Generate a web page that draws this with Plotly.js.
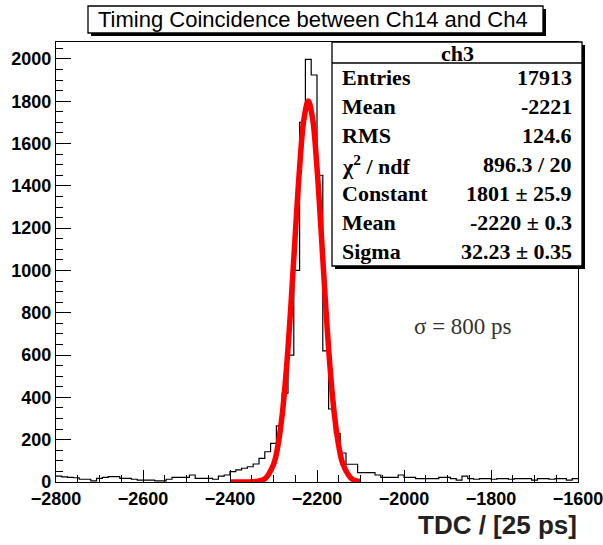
<!DOCTYPE html>
<html>
<head>
<meta charset="utf-8">
<script src="https://cdn.plot.ly/plotly-3.0.1.min.js"></script>
<style>html,body{margin:0;padding:0;background:#fff;}#chart{width:603px;height:545px;}</style>
</head>
<body>
<div id="chart"></div>
<script>
// ---- data ----
var histTitle = "Timing Coincidence between Ch14 and Ch4";
var histName = "ch3";
var binLow = -2800;
var binHigh = -1600;
var binCounts = [
  28, 24, 22, 20, 13, 13, 5, 17, 22, 25,
  25, 17, 17, 13, 9, 9, 9, 5, 5, 13,
  22, 22, 22, 33, 17, 17, 17, 13, 28, 33,
  49, 57, 65, 72, 85, 112, 143, 183, 265, 420,
  600, 1000, 1700, 1998, 1924, 1450, 620, 345, 230, 137,
  84, 84, 44, 44, 44, 33, 22, 22, 22, 33,
  22, 22, 16, 16, 16, 16, 22, 22, 16, 9,
  28, 16, 13, 16, 16, 13, 16, 16, 13, 16,
  16, 16, 9, 16, 16, 13, 16, 16, 9, 16
];
// fitted gaussian curve
var fitX = [-2400, -2360, -2340, -2320, -2300, -2290, -2280, -2270, -2260, -2250, -2240, -2230, -2220,
            -2210, -2200, -2190, -2180, -2170, -2160, -2150, -2140, -2120, -2100];
var fitY = [0, 0, 2, 15, 83, 170, 318, 541, 834, 1168, 1485, 1716, 1801,
            1716, 1485, 1168, 834, 541, 318, 170, 83, 15, 2];
var statLabels = ["Entries", "Mean", "RMS", "\u03c7<sup>2</sup> / ndf", "Constant", "Mean", "Sigma"];
var statValues = ["17913", "-2221", "124.6", "896.3 / 20", "1801 \u00b1 25.9", "-2220 \u00b1 0.3", "32.23 \u00b1 0.35"];
var noteText = "\u03c3 = 800 ps";
var xTitle = "TDC / [25 ps]";

// ---- build histogram outline ----
var nBins = binCounts.length;
var bw = (binHigh - binLow) / nBins;
var hx = [], hy = [];
for (var i = 0; i < nBins; i++) { hx.push(binLow + i * bw); hy.push(binCounts[i]); }
hx.push(binHigh); hy.push(binCounts[nBins - 1]);

// ---- pixel helpers ----
var L = 56, R = 578, T = 42, B = 482;
function PX(px) { return (px - L) / (R - L); }
function PY(py) { return (B - py) / (B - T); }

var shapes = [];
var annotations = [];
function box(x0, y0, x1, y1, sh) {
  shapes.push({type: 'rect', xref: 'paper', yref: 'paper', x0: PX(x0 + sh), x1: PX(x1 + sh), y0: PY(y0 + sh), y1: PY(y1 + sh),
               fillcolor: '#000', line: {width: 0}});
  shapes.push({type: 'rect', xref: 'paper', yref: 'paper', x0: PX(x0), x1: PX(x1), y0: PY(y0), y1: PY(y1),
               fillcolor: '#fff', line: {color: '#000', width: 1.3}});
}
// title box
box(88, 6, 543, 33, 3);
annotations.push({xref: 'paper', yref: 'paper', x: PX(313), y: PY(20), text: histTitle, showarrow: false,
                  xanchor: 'center', yanchor: 'middle', font: {family: 'Liberation Sans, Arial, sans-serif', size: 22, color: '#000'}});
// stats box
var sx0 = 332, sx1 = 582, sy0 = 42, sy1 = 266, sHead = 63;
box(sx0, sy0, sx1, sy1, 3);
shapes.push({type: 'line', xref: 'paper', yref: 'paper', x0: PX(sx0), x1: PX(sx1), y0: PY(sHead), y1: PY(sHead), line: {color: '#000', width: 1.3}});
var statFont = {family: 'Liberation Serif, Times New Roman, serif', size: 22, color: '#000', weight: 'bold'};
annotations.push({xref: 'paper', yref: 'paper', x: PX((sx0 + sx1) / 2), y: PY((sy0 + sHead) / 2 + 1), text: '<b>' + histName + '</b>', showarrow: false,
                  xanchor: 'center', yanchor: 'middle', font: statFont});
var rowH = (sy1 - sHead) / statLabels.length;
for (var r = 0; r < statLabels.length; r++) {
  var cy = sHead + rowH * (r + 0.5);
  annotations.push({xref: 'paper', yref: 'paper', x: PX(sx0 + 8), y: PY(cy), text: '<b>' + statLabels[r] + '</b>', showarrow: false,
                    xanchor: 'left', yanchor: 'middle', font: statFont});
  annotations.push({xref: 'paper', yref: 'paper', x: PX(sx1 - 8), y: PY(cy), text: '<b>' + statValues[r] + '</b>', showarrow: false,
                    xanchor: 'right', yanchor: 'middle', font: statFont});
}
// note
annotations.push({xref: 'paper', yref: 'paper', x: PX(463), y: PY(326), text: noteText, showarrow: false,
                  xanchor: 'center', yanchor: 'middle', font: {family: 'Liberation Serif, Times New Roman, serif', size: 23, color: '#333'}});
// x title
annotations.push({xref: 'paper', yref: 'paper', x: PX(579), y: PY(525), text: '<b>' + xTitle + '</b>', showarrow: false,
                  xanchor: 'right', yanchor: 'middle', font: {family: 'Liberation Sans, Arial, sans-serif', size: 26, color: '#222'}});

var traces = [
  {type: 'scatter', mode: 'lines', x: hx, y: hy, line: {shape: 'hv', color: '#000', width: 1.2}, hoverinfo: 'skip', cliponaxis: true},
  {type: 'scatter', mode: 'lines', x: fitX, y: fitY, line: {shape: 'spline', smoothing: 1, color: '#ff0000', width: 5.5}, hoverinfo: 'skip'}
];

var tickFont = {family: 'Liberation Sans, Arial, sans-serif', size: 18, color: '#000', weight: 'bold'};
var layout = {
  width: 603, height: 545,
  margin: {l: L, r: 603 - R, t: T, b: 545 - B, pad: 0},
  paper_bgcolor: '#fff', plot_bgcolor: '#fff',
  showlegend: false,
  xaxis: {range: [binLow, binHigh], showgrid: false, zeroline: false, showline: true, mirror: true, linecolor: '#000', linewidth: 1.2,
          ticks: 'inside', tick0: -2800, dtick: 200, ticklen: 12, tickcolor: '#000', tickwidth: 1,
          minor: {ticks: 'inside', dtick: 50, ticklen: 7, tickcolor: '#000', tickwidth: 1, showgrid: false},
          tickfont: tickFont, ticklabeloverflow: 'allow', fixedrange: true},
  yaxis: {range: [0, 2080], showgrid: false, zeroline: false, showline: true, mirror: true, linecolor: '#000', linewidth: 1.2,
          ticks: 'inside', tick0: 0, dtick: 200, ticklen: 15, tickcolor: '#000', tickwidth: 1,
          minor: {ticks: 'inside', dtick: 50, ticklen: 7, tickcolor: '#000', tickwidth: 1, showgrid: false},
          tickfont: tickFont, ticklabeloverflow: 'allow', fixedrange: true},
  shapes: shapes,
  annotations: annotations
};
Plotly.newPlot('chart', traces, layout, {displayModeBar: false, staticPlot: true});
</script>
</body>
</html>
